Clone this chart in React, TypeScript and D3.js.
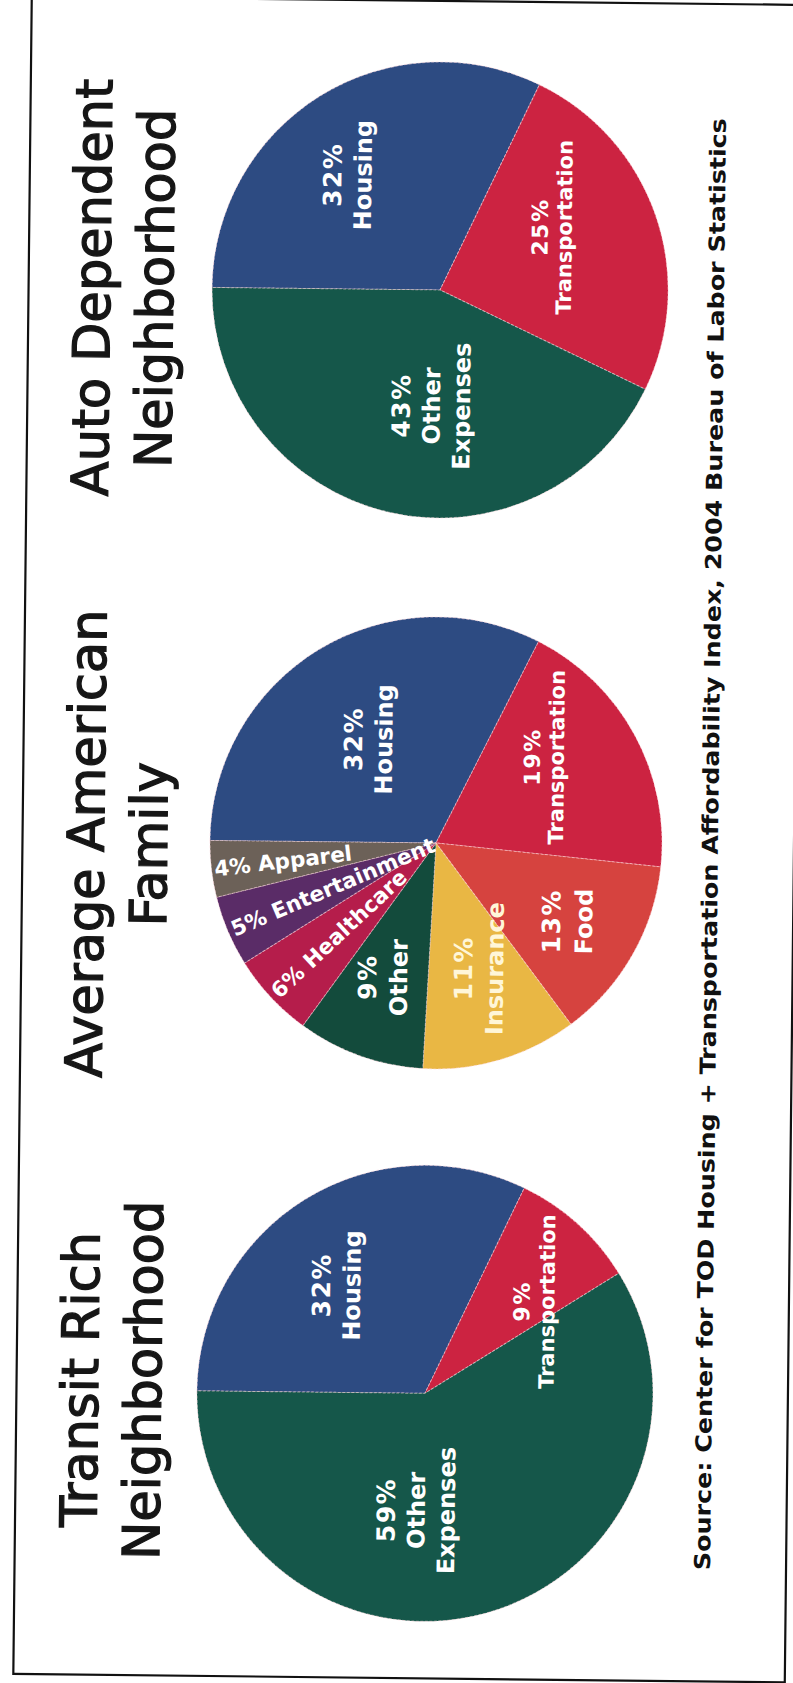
import React from "react";
import * as d3 from "d3";

const W = 793;
const H = 1683;

// ---------- data ----------
const autoTitle = ["Auto Dependent", "Neighborhood"];
const autoCategories = ["Housing", "Transportation", "Other Expenses"];
const autoValues = [32, 25, 43];

const averageTitle = ["Average American", "Family"];
const averageCategories = ["Housing", "Transportation", "Food", "Insurance", "Other", "Healthcare", "Entertainment", "Apparel"];
const averageValues = [32, 19, 13, 11, 9, 6, 5, 4];

const transitTitle = ["Transit Rich", "Neighborhood"];
const transitCategories = ["Housing", "Transportation", "Other Expenses"];
const transitValues = [32, 9, 59];

const sourceText = "Source: Center for TOD Housing + Transportation Affordability Index, 2004 Bureau of Labor Statistics";

// ---------- styles ----------
const colorScale = d3
  .scaleOrdinal<string, string>()
  .domain(["Housing", "Transportation", "Other Expenses", "Food", "Insurance", "Other", "Healthcare", "Entertainment", "Apparel"])
  .range(["#2d4b82", "#cc2341", "#15574a", "#d6433f", "#e9b744", "#134b3c", "#b51d4b", "#5a2c67", "#6c6158"]);

type LabelCfg = { dx?: number; dy?: number; radial?: number; fs?: number; pfs?: number; lh?: number; fill?: string };

const layouts = [
  {
    title: autoTitle, categories: autoCategories, values: autoValues,
    cx: 434, cy: 289.5, r: 228, titleCy: 291,
    labels: {
      Housing: { dx: -94, dy: -114 },
      Transportation: { dx: 111, dy: -64, fs: 21, pfs: 22, lh: 24 },
      "Other Expenses": { dx: -8, dy: 116 },
    } as Record<string, LabelCfg>,
  },
  {
    title: averageTitle, categories: averageCategories, values: averageValues,
    cx: 436, cy: 842.5, r: 226, titleCy: 847,
    labels: {
      Housing: { dx: -69, dy: -103 },
      Transportation: { dx: 107, dy: -87, fs: 21, pfs: 22, lh: 24 },
      Food: { dx: 132, dy: 77, lh: 32 },
      Insurance: { dx: 44, dy: 125, fill: "#fff6d8", lh: 31 },
      Other: { dx: -52, dy: 135, lh: 31 },
      Healthcare: { radial: 133 },
      Entertainment: { radial: 112 },
      Apparel: { radial: 154 },
    } as Record<string, LabelCfg>,
  },
  {
    title: transitTitle, categories: transitCategories, values: transitValues,
    cx: 431, cy: 1393, r: 228, titleCy: 1383,
    labels: {
      Housing: { dx: -90, dy: -107 },
      Transportation: { dx: 108, dy: -93, fs: 21, pfs: 22, lh: 25 },
      "Other Expenses": { dx: -8, dy: 117 },
    } as Record<string, LabelCfg>,
  },
];

const LABEL_FONT = "'DejaVu Sans', Verdana, sans-serif";
const TITLE_FONT = "'DejaVu Sans', Arial, sans-serif";

function Pie({ cfg }: { cfg: (typeof layouts)[number] }) {
  const data = cfg.categories.map((c, i) => ({ name: c, value: cfg.values[i] }));
  const pie = d3
    .pie<{ name: string; value: number }>()
    .sort(null)
    .value((d) => d.value)
    .startAngle(-Math.PI / 2)
    .endAngle((3 * Math.PI) / 2);
  const arcs = pie(data);
  const arc = d3.arc<d3.PieArcDatum<{ name: string; value: number }>>().innerRadius(0).outerRadius(cfg.r);

  return (
    <g>
      <g transform={`translate(${cfg.cx},${cfg.cy})`}>
        {arcs.map((a) => (
          <path
            key={a.data.name}
            d={arc(a) || ""}
            fill={colorScale(a.data.name)}
            stroke="rgba(255,215,220,0.55)"
            strokeWidth={1}
            strokeDasharray="3 1.5"
          />
        ))}
      </g>
      {arcs.map((a) => {
        const lc = cfg.labels[a.data.name] || {};
        const pct = `${a.data.value}%`;
        if (lc.radial !== undefined) {
          const m = (a.startAngle + a.endAngle) / 2;
          const x = cfg.cx + Math.sin(m) * lc.radial;
          const y = cfg.cy - Math.cos(m) * lc.radial;
          const rot = (Math.atan2(Math.cos(m), -Math.sin(m)) * 180) / Math.PI;
          return (
            <text
              key={"l" + a.data.name}
              transform={`translate(${x},${y}) rotate(${rot})`}
              textAnchor="middle"
              dy="0.36em"
              fontFamily={LABEL_FONT}
              fontWeight="bold"
              fontSize={21.5}
              fill="#ffffff"
            >
              {`${pct} ${a.data.name}`}
            </text>
          );
        }
        const lines = [pct, ...a.data.name.split(" ")];
        const fs = lc.fs ?? 24;
        const pfs = lc.pfs ?? 25;
        const lh = lc.lh ?? 30;
        const b1 = -((lines.length - 1) * lh - 0.73 * pfs) / 2;
        return (
          <g key={"l" + a.data.name} transform={`translate(${cfg.cx + (lc.dx ?? 0)},${cfg.cy + (lc.dy ?? 0)}) rotate(-90)`}>
            {lines.map((t, i) => (
              <text
                key={i}
                x={0}
                y={b1 + i * lh}
                textAnchor="middle"
                fontFamily={LABEL_FONT}
                fontWeight="bold"
                fontSize={i === 0 ? pfs : fs}
                letterSpacing={i === 0 ? 1.5 : 0}
                fill={lc.fill ?? "#ffffff"}
              >
                {t}
              </text>
            ))}
          </g>
        );
      })}
      <g transform={`translate(0,${cfg.titleCy}) rotate(-90)`}>
        {cfg.title.map((t, i) => (
          <text
            key={i}
            x={0}
            y={104 + i * 63}
            textAnchor="middle"
            fontFamily={TITLE_FONT}
            fontSize={51}
            fill="#161616"
            stroke="#161616"
            strokeWidth={1.3}
          >
            {t}
          </text>
        ))}
      </g>
    </g>
  );
}

export default function App() {
  return (
    <svg
      width={W}
      height={H}
      viewBox={`0 0 ${W} ${H}`}
      style={{ position: "absolute", left: 0, top: 0, background: "#ffffff" }}
    >
      <rect x={0} y={0} width={W} height={H} fill="#ffffff" />
      <g transform={`rotate(0.63, ${W / 2}, ${H / 2})`}>
        <rect x={22.5} y={0.5} width={771.5} height={1677.5} fill="none" stroke="#111" strokeWidth={2.2} />
        {layouts.map((cfg, i) => (
          <Pie key={i} cfg={cfg} />
        ))}
        <g transform={`translate(718,840.7) rotate(-90)`}>
          <text
            x={0}
            y={0}
            textAnchor="middle"
            fontFamily={LABEL_FONT}
            fontWeight="bold"
            fontSize={22}
            fill="#111"
            textLength={1452}
            lengthAdjust="spacingAndGlyphs"
          >
            {sourceText}
          </text>
        </g>
      </g>
    </svg>
  );
}
